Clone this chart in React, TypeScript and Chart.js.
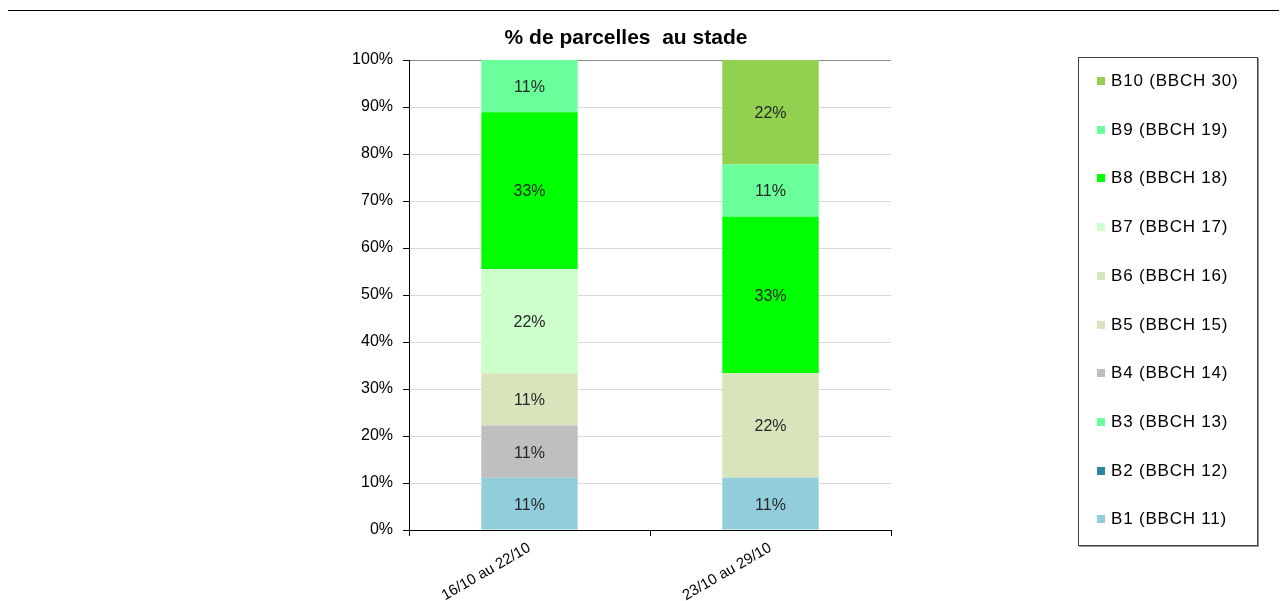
import React, { useEffect, useRef, useState } from "react";
import { Chart, registerables } from "chart.js";

Chart.register(...registerables);

const FONT = '"Liberation Sans", Arial, Helvetica, sans-serif';

const categories = ["16/10 au 22/10", "23/10 au 29/10"];
const seriesNames = [
  "B1 (BBCH 11)",
  "B2 (BBCH 12)",
  "B3 (BBCH 13)",
  "B4 (BBCH 14)",
  "B5 (BBCH 15)",
  "B6 (BBCH 16)",
  "B7 (BBCH 17)",
  "B8 (BBCH 18)",
  "B9 (BBCH 19)",
  "B10 (BBCH 30)",
];
const seriesColors = [
  "#92CDDC",
  "#31859C",
  "#6AFF9A",
  "#BFBFBF",
  "#D8E4BC",
  "#D8E4BC",
  "#CCFFCC",
  "#00FF00",
  "#6AFF9A",
  "#92D050",
];
const b1 = [11.11, 11.11];
const b2 = [0, 0];
const b3 = [0, 0];
const b4 = [11.11, 0];
const b5 = [11.11, 22.22];
const b6 = [0, 0];
const b7 = [22.22, 0];
const b8 = [33.33, 33.34];
const b9 = [11.11, 11.11];
const b10 = [0, 22.22];
const seriesValues = [b1, b2, b3, b4, b5, b6, b7, b8, b9, b10];
const titleText = "% de parcelles  au stade";

const valueLabels = {
  id: "valueLabels",
  afterDatasetsDraw(chart: any) {
    const ctx = chart.ctx;
    ctx.save();
    ctx.font = `16px ${FONT}`;
    ctx.fillStyle = "#262626";
    ctx.textAlign = "center";
    ctx.textBaseline = "middle";
    chart.data.datasets.forEach((ds: any, i: number) => {
      const meta = chart.getDatasetMeta(i);
      meta.data.forEach((el: any, j: number) => {
        const v = ds.data[j];
        if (!v) return;
        ctx.fillText(Math.round(v) + "%", el.x, (el.y + el.base) / 2 + 1.5);
      });
    });
    ctx.restore();
  },
};

export default function App() {
  const ref = useRef<HTMLCanvasElement | null>(null);
  const [err, setErr] = useState("");

  useEffect(() => {
    if (!ref.current) return;
    let chart: any = null;
    try {
      chart = new Chart(ref.current, {
        type: "bar",
        data: {
          labels: categories,
          datasets: seriesNames.map((name, i) => ({
            label: name,
            data: seriesValues[i],
            backgroundColor: seriesColors[i],
            borderWidth: 0,
            barPercentage: 0.4,
            categoryPercentage: 1,
            yAxisID: "y",
          })),
        },
        options: {
          responsive: false,
          animation: false,
          layout: { padding: 0 },
          plugins: {
            legend: { display: false },
            tooltip: { enabled: false },
            title: {
              display: true,
              text: titleText,
              color: "#000",
              font: { family: FONT, size: 21, weight: "bold" },
              padding: { top: 17.5, bottom: 9.3 },
            },
          },
          scales: {
            x: {
              stacked: true,
              afterFit: (s: any) => {
                s.height = 71;
              },
              grid: {
                offset: true,
                color: (c: any) => (c.index === 2 ? "#8C8C8C" : "rgba(0,0,0,0)"),
                tickColor: "#000",
                tickLength: 6,
                lineWidth: 1,
              },
              border: { color: "#000", width: 1 },
              ticks: {
                color: "#000",
                font: { family: FONT, size: 15 },
                minRotation: 30,
                maxRotation: 30,
                padding: 3,
              },
            },
            y: {
              stacked: true,
              min: 0,
              max: 100,
              afterFit: (s: any) => {
                s.width = 401;
              },
              grid: {
                color: (c: any) => (c.tick && c.tick.value === 100 ? "#8C8C8C" : "#D9D9D9"),
                tickColor: "#000",
                tickLength: 6,
              },
              border: { color: "#000", width: 1 },
              ticks: {
                stepSize: 10,
                color: "#000",
                font: { family: FONT, size: 16 },
                padding: 10,
                callback: (v: any) => v + "%",
              },
            },
            spacer: {
              type: "linear",
              position: "right",
              display: true,
              min: 0,
              max: 100,
              afterFit: (s: any) => {
                s.width = 353;
              },
              grid: { display: false, drawOnChartArea: false, drawTicks: false },
              border: { display: false },
              ticks: { display: false },
            },
          },
        },
        plugins: [valueLabels],
      } as any);
    } catch (e: any) {
      setErr(String(e && e.stack ? e.stack : e));
    }
    return () => {
      if (chart) chart.destroy();
    };
  }, []);

  const legendItems = seriesNames.map((n, i) => ({ name: n, color: seriesColors[i] })).reverse();

  return (
    <div
      style={{
        position: "relative",
        width: 1287,
        height: 601,
        margin: "-8px 0 0 -8px",
        overflow: "hidden",
        background: "#fff",
        fontFamily: FONT,
      }}
    >
      <canvas
        ref={ref}
        width={1236}
        height={593}
        style={{ position: "absolute", left: 8, top: 8, width: 1236, height: 593, display: "block" }}
      />
      <div style={{ position: "absolute", left: 7, top: 10, width: 1280, height: 1, background: "#000" }} />
      <div style={{ position: "absolute", left: 6, top: 10, width: 2, height: 591, background: "#000" }} />
      <div
        style={{
          position: "absolute",
          left: 1078,
          top: 57,
          width: 180,
          height: 489,
          boxSizing: "border-box",
          border: "1px solid #404040",
          boxShadow: "1px 1px 0 #999",
          background: "#fff",
        }}
      >
        {legendItems.map((it, i) => (
          <div
            key={it.name}
            style={{
              position: "absolute",
              left: 18,
              top: 23 + i * 48.7 - 10,
              height: 20,
              display: "flex",
              alignItems: "center",
              whiteSpace: "nowrap",
            }}
          >
            <span style={{ display: "inline-block", width: 8, height: 8, background: it.color, marginRight: 6 }} />
            <span style={{ fontSize: 17, letterSpacing: "0.8px", color: "#000", lineHeight: "20px" }}>{it.name}</span>
          </div>
        ))}
      </div>
      {err ? (
        <pre style={{ position: "absolute", left: 20, top: 20, color: "red", fontSize: 12 }}>{err}</pre>
      ) : null}
    </div>
  );
}
